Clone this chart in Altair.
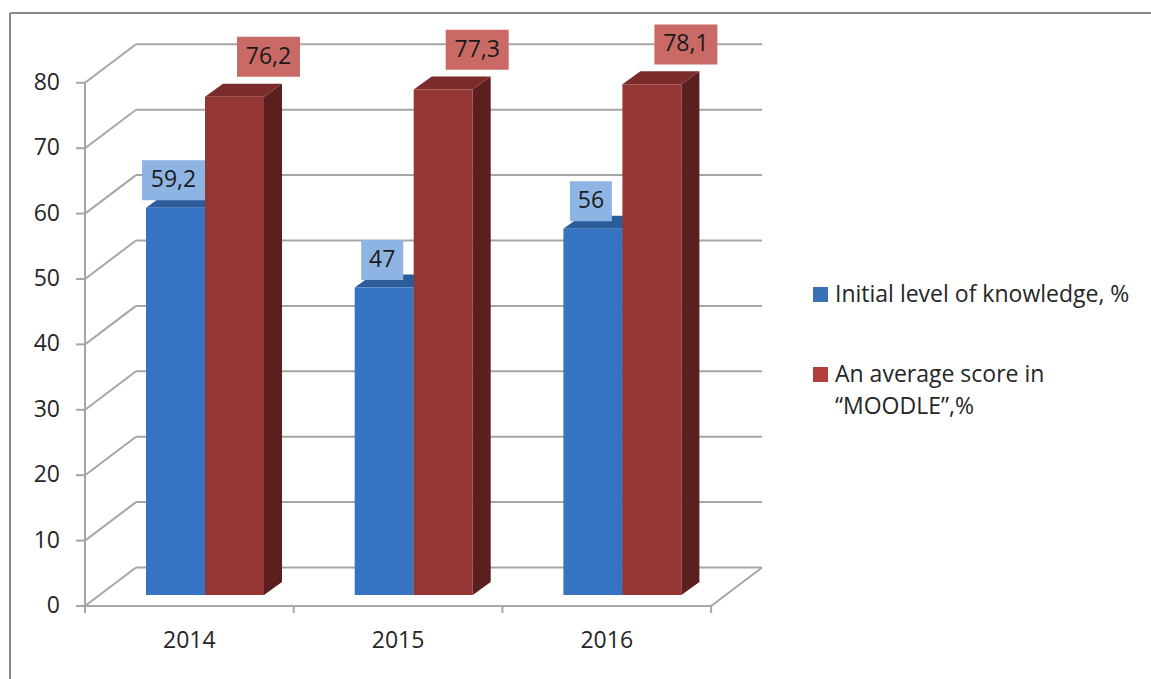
import altair as alt
import pandas as pd

# ---------------- data ----------------
years = ["2014", "2015", "2016"]
initial_level = [59.2, 47, 56]
moodle_score = [76.2, 77.3, 78.1]
series_names = ["Initial level of knowledge, %", "An average score in\n\u201cMOODLE\u201d,%"]
y_ticks = [0, 10, 20, 30, 40, 50, 60, 70, 80]

# ---------------- layout constants (pixels -> data units) ----------------
PXX = 208.7          # px per category unit
PXY = 6.54           # px per value unit
W, H = 678, 563
X_MAX = W / PXX
Y_MAX = H / PXY
DXB = 51 / PXX       # back wall depth offset
DYB = 38.5 / PXY
BX0 = 61 / PXX       # first bar offset inside a category
BW = 59 / PXX        # bar width
FDY = 11 / PXY       # bar base lift (depth)
SDX = 18 / PXX       # bar depth
SDY = 13 / PXY
TICK = 7 / PXY
FONT = "Open Sans"
TXT = "#262626"
GRID = "#a6a6a6"

styles = [
    dict(top="#2c5d9b", side="#234a7c", box="#8eb4e3", ldx=-2, lup=27.5, front="#3673c0", leg="#3a70b6"),
    dict(top="#7b2b29", side="#5c1f1f", box="#c96a67", ldx=34, lup=39.8, front="#943634", leg="#b23f3c"),
]


def px_x(p):
    return p / PXX


def px_y(p):
    # pixel offset from plot top -> data units
    return Y_MAX - p / PXY


XS = alt.Scale(domain=[0, X_MAX], nice=False, zero=False)
YS = alt.Scale(domain=[0, Y_MAX], nice=False, zero=False)


def X(f):
    return alt.X(f, type="quantitative", scale=XS, axis=None)


def Y(f):
    return alt.Y(f, type="quantitative", scale=YS, axis=None)


def segments(pairs):
    rows = []
    for k, (x1, y1, x2, y2) in enumerate(pairs):
        rows.append(dict(seg=k, o=0, px=x1, py=y1))
        rows.append(dict(seg=k, o=1, px=x2, py=y2))
    return pd.DataFrame(rows)


# ---------------- frame / grid / axes ----------------
pairs = []
for v in y_ticks:
    pairs.append((0, v, DXB, v + DYB))
    pairs.append((DXB, v + DYB, 3 + DXB, v + DYB))
    pairs.append((px_x(-9), v, 0, v))
pairs.append((0, 0, 0, y_ticks[-1]))
pairs.append((0, 0, len(years), 0))
pairs.append((len(years), 0, len(years) + DXB, DYB))
for i in range(len(years) + 1):
    pairs.append((i, 0, i, -TICK))

grid = alt.Chart(segments(pairs)).mark_line(color=GRID, strokeWidth=2).encode(
    x=X("px"), y=Y("py"), detail="seg:N", order="o:Q")

border = alt.Chart(segments([(px_x(-75), px_y(700), px_x(-75), px_y(-30)),
                             (px_x(-75), px_y(-30), px_x(1100), px_y(-30))])).mark_line(
    color="#8a8a8a", strokeWidth=2).encode(
    x=X("px"), y=Y("py"), detail="seg:N", order="o:Q")

ytick_df = pd.DataFrame({"v": y_ticks, "lab": [str(v) for v in y_ticks],
                         "tx": [px_x(-25)] * len(y_ticks)})
ylabels = alt.Chart(ytick_df).mark_text(font=FONT, fontSize=23, color=TXT, align="right",
                                        baseline="middle").encode(
    x=X("tx"), y=Y("v"), text="lab:N")

# ---------------- bars ----------------
layers = [grid, border, ylabels]
for s, values in enumerate([initial_level, moodle_score]):
    st = styles[s]
    sides, tops, fronts, labels = [], [], [], []
    for i, v in enumerate(values):
        xl = i + BX0 + s * BW
        xr = xl + BW
        yb, yt = FDY, v + FDY
        fronts.append(dict(x=xl, x2=xr, y=yb, y2=yt))
        fid = f"{s}-{i}"
        sides += [
            dict(face=fid, x=xr, lo=yb, hi=yt),
            dict(face=fid, x=xr + SDX, lo=yb + SDY, hi=yt + SDY),
        ]
        tops += [
            dict(face=fid, x=xl, lo=yt, hi=yt),
            dict(face=fid, x=xl + SDX, lo=yt, hi=yt + SDY),
            dict(face=fid, x=xr, lo=yt, hi=yt + SDY),
            dict(face=fid, x=xr + SDX, lo=yt + SDY, hi=yt + SDY),
        ]
        txt = f"{v:g}".replace(".", ",")
        xc = (xl + xr) / 2 + st["ldx"] / PXX
        yc = yt + st["lup"] / PXY
        hw = (10.5 * len(txt) + 21) / 2 / PXX
        hh = 20 / PXY
        labels.append(dict(label=txt, xc=xc, yc=yc,
                           bx=xc - hw, bx2=xc + hw, by=yc - hh, by2=yc + hh))
    st["labels"] = pd.DataFrame(labels)
    for rows, col in ((sides, st["side"]), (tops, st["top"])):
        layers.append(alt.Chart(pd.DataFrame(rows)).mark_area(
            interpolate="linear", color=col).encode(
            x=X("x"), y=Y("lo"), y2="hi", detail="face:N"))
    layers.append(alt.Chart(pd.DataFrame(fronts)).mark_rect(color=st["front"]).encode(
        x=X("x"), x2="x2", y=Y("y"), y2="y2"))

for st in styles:
    ldf = st["labels"]
    layers.append(alt.Chart(ldf).mark_rect(color=st["box"]).encode(
        x=X("bx"), x2="bx2", y=Y("by"), y2="by2"))
    layers.append(alt.Chart(ldf).mark_text(font=FONT, fontSize=23, color="#1a1a1a",
                                           baseline="middle", align="center").encode(
        x=X("xc"), y=Y("yc"), text="label:N"))

# ---------------- category labels ----------------
year_df = pd.DataFrame({"year": years, "xc": [i + 0.5 for i in range(len(years))],
                        "yc": [-34.5 / PXY] * len(years)})
layers.append(alt.Chart(year_df).mark_text(font=FONT, fontSize=23, color=TXT,
                                           baseline="middle", align="center").encode(
    x=X("xc"), y=Y("yc"), text="year:N"))

# ---------------- legend ----------------
line_rows = []
for k, name in enumerate(series_names):
    st = styles[k]
    sq = pd.DataFrame({"sx": [px_x(728)], "sx2": [px_x(743)],
                       "sy": [px_y(244 + 80 * k)], "sy2": [px_y(259 + 80 * k)]})
    layers.append(alt.Chart(sq).mark_rect(color=st["leg"]).encode(
        x=X("sx"), x2="sx2", y=Y("sy"), y2="sy2"))
    for j, line in enumerate(name.split("\n")):
        line_rows.append(dict(t=line, tx=px_x(750), ty=px_y(259 + 80 * k + 32.3 * j)))
line_df = pd.DataFrame(line_rows)
layers.append(alt.Chart(line_df).mark_text(font=FONT, fontSize=23, color=TXT, align="left",
                                           baseline="alphabetic").encode(
    x=X("tx"), y=Y("ty"), text="t:N"))

chart = alt.layer(*layers).properties(
    width=W, height=H,
    autosize=alt.AutoSizeParams(type="none"),
    padding={"left": 85, "top": 43, "right": 1151 - 85 - W, "bottom": 679 - 43 - H},
    background="white",
).configure_view(strokeWidth=0)

chart.save("out.html", embed_options={"renderer": "svg", "actions": False})
